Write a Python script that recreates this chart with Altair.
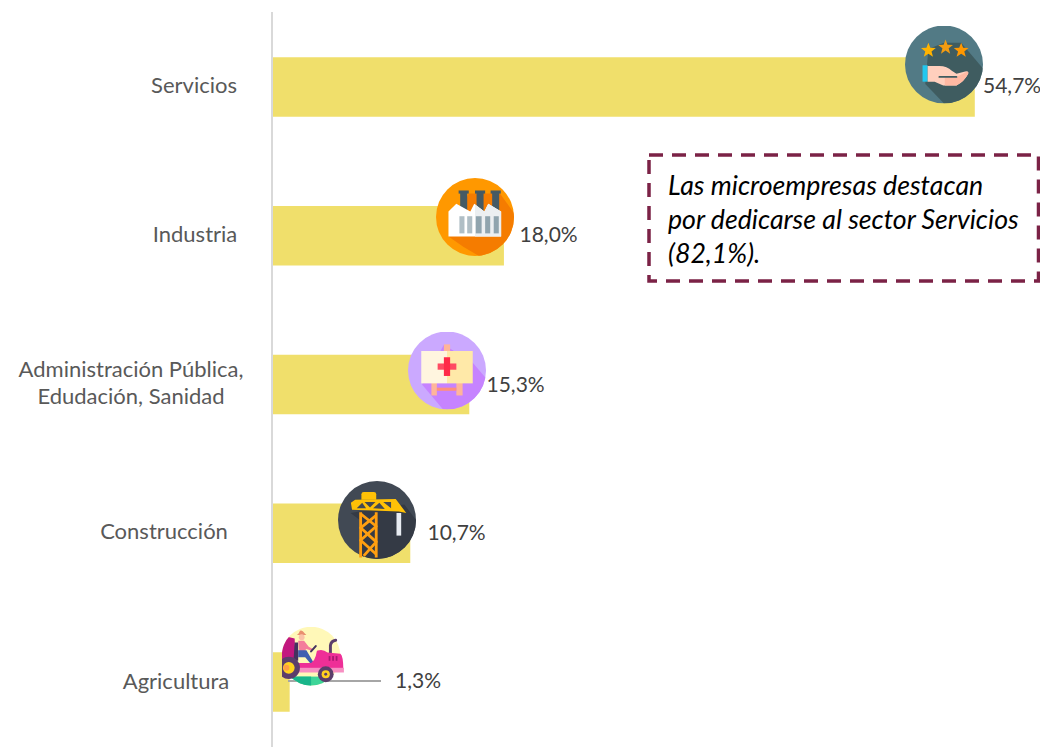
import base64
import math
import altair as alt
import pandas as pd

# ---- data ----
categories = ["Servicios", "Industria", "Administración Pública,\nEdudación, Sanidad", "Construcción", "Agricultura"]
values = [54.7, 18.0, 15.3, 10.7, 1.3]
value_labels = ["54,7%", "18,0%", "15,3%", "10,7%", "1,3%"]
note_lines = ["Las microempresas destacan", "por dedicarse al sector Servicios", "(82,1%)."]

# ---- layout (chart pixels = page pixels - 8) ----
W, H = 1032, 739
ORIGIN, PX_PER_UNIT = 265.0, 12.83
cat_x = [186, 187, 123, 156, 168]
cat_y = [78, 227, 361.5, 523.5, 674]
val_x = [975, 511.5, 478.5, 419.5, 387]
val_y = [79, 228, 378, 526, 674]
icon_x = [936, 467, 439, 369, 306]
icon_y = [56.5, 209, 362.5, 512, 651]
note_y = [178.7, 212.5, 246.7]


def uri(body, vb="0 0 100 100"):
    svg = f'<svg xmlns="http://www.w3.org/2000/svg" viewBox="{vb}" width="200" height="200">{body}</svg>'
    return "data:image/svg+xml;base64," + base64.b64encode(svg.encode()).decode()


def star(cx, cy, c):
    r, q = 10, 4.2
    pts = []
    for i in range(10):
        a = -math.pi / 2 + i * math.pi / 5
        rad = r if i % 2 == 0 else q
        pts.append(f"{cx + rad * math.cos(a):.1f},{cy + rad * math.sin(a):.1f}")
    return f'<polygon points="{" ".join(pts)}" fill="{c}"/>'


CLIP = '<clipPath id="c"><circle cx="50" cy="50" r="50"/></clipPath>'

hand = CLIP + '<circle cx="50" cy="50" r="50" fill="#527A85"/>' \
    '<polygon clip-path="url(#c)" points="26,75 30,30 50,22 72,22 100,55 100,100 50,100" fill="#3F5C60"/>' \
    + star(30, 32, "#FFB300") + star(52, 28, "#F39C12") + star(72, 32, "#FF9800") + \
    '<rect x="22.5" y="51" width="6.5" height="21" fill="#22C7EE"/>' \
    '<path d="M29 52 H44 Q54 52 60 58 L66 62 L77 59 Q82 58 81 62 Q76 72 66 77 H49 L38 72 H29 Z" fill="#FFCFBD"/>' \
    '<path d="M51 66 H66 L78 60 Q82 58 81 62 Q76 72 66 77 H51 Z" fill="#FFB9A3"/>' \
    '<path d="M44 66 H66" stroke="#3F5C60" stroke-width="2.2" stroke-linecap="round" fill="none"/>'

factory = CLIP + '<circle cx="50" cy="50" r="50" fill="#FF9800"/>' \
    '<polygon clip-path="url(#c)" points="35,88 16,75 42,20 82,20 100,45 100,100 55,100" fill="#F57C00"/>' \
    '<g fill="#455A64"><rect x="29" y="16" width="13" height="4"/><rect x="31" y="18" width="9" height="26"/>' \
    '<rect x="50" y="16" width="13" height="4"/><rect x="52" y="18" width="9" height="26"/>' \
    '<rect x="70" y="16" width="13" height="4"/><rect x="72" y="18" width="9" height="26"/></g>' \
    '<polygon points="16,75 16,43 26,33 44,43 49,33 62,43 67,33 83.5,43 83.5,75" fill="#FFFFFF"/>' \
    '<polygon points="50,75 50,34 62,43 67,33 83.5,43 83.5,75" fill="#ECEFF1"/>' \
    '<g fill="#B0BEC5"><rect x="30" y="49" width="6.5" height="22"/><rect x="40" y="49" width="6.5" height="22"/></g>' \
    '<g fill="#90A4AE"><rect x="51" y="49" width="7.5" height="22"/><rect x="63" y="49" width="6.5" height="22"/><rect x="74" y="49" width="6.5" height="22"/></g>'

board = CLIP + '<circle cx="50" cy="50" r="50" fill="#CBA9FF"/>' \
    '<polygon clip-path="url(#c)" points="46,17 83,40 100,60 100,100 45,100 18,68" fill="#C683FF"/>' \
    '<rect x="46" y="16.5" width="8" height="9" fill="#FFB59A"/>' \
    '<rect x="30" y="66" width="7" height="16" fill="#FFB59A"/><rect x="62" y="66" width="8" height="16" fill="#FFB59A"/>' \
    '<rect x="37" y="72" width="25" height="4" fill="#FF8F7E"/>' \
    '<rect x="17" y="25" width="33" height="41.5" fill="#FFF5DF"/><rect x="50" y="25" width="33" height="41.5" fill="#FFE9A8"/>' \
    '<rect x="38" y="41" width="24" height="8" fill="#FF4B62"/><rect x="46" y="33" width="8" height="24" fill="#FF2A48"/>'

crane = CLIP + '<circle cx="50" cy="50" r="50" fill="#414954"/>' \
    '<polygon clip-path="url(#c)" points="16,41 28,50 28,100 100,100 100,50 85,30" fill="#343A45"/>' \
    '<path d="M30 24 V17 Q30 14 33 14 H46 Q49 14 49 17 V24 Z" fill="#FFC107"/>' \
    '<rect x="75" y="41" width="6" height="29" fill="#E8ECF2"/>' \
    '<g fill="none" stroke="#FF9F10" stroke-width="3.6" stroke-linejoin="round">' \
    '<path d="M29 40 V98 M49 40 V98"/><path d="M29 42 L49 58 L29 76 L49 94"/><path d="M49 44 L29 60 L49 78 L33 96"/></g>' \
    '<path d="M29 38 H51 V98 H47 V38 Z" fill="#FFAA12" opacity="0"/>' \
    '<polygon points="16.5,28 22,24 74,23 87.5,41 78,39 18,37" fill="#FFC107"/>' \
    '<g fill="#414954"><polygon points="24,35 31,28 36,35"/><polygon points="34,27 48,27 41,34"/><polygon points="45,35 53,28 60,36"/><polygon points="58,27 68,27 68,35"/></g>'

tractor = CLIP + '<circle cx="50" cy="50" r="50" fill="#FFF8B8"/>' \
    '<g clip-path="url(#c)"><polygon points="0,15 22,20 24,65 0,65" fill="#C2187F"/>' \
    '<rect x="0" y="85" width="100" height="16" fill="#3DD598"/><rect x="0" y="85" width="50" height="16" fill="#19B58A"/></g>' \
    '<path d="M22 27 H28 V58 H20 Z" fill="#44335F"/>' \
    '<path d="M26 14 H42 L39 11 Q35 5 31 7 L29 11 Z" fill="#E9906F"/>' \
    '<circle cx="34" cy="18" r="5" fill="#FBC3A7"/>' \
    '<path d="M28 24 H38 L46 34 L53 38 L51 41 L42 38 L38 42 H30 Z" fill="#F47C9B"/>' \
    '<path d="M28 40 H42 L56 64 H50 L40 52 H28 Z" fill="#3F5FB0"/>' \
    '<path d="M50 42 L58 33" stroke="#44335F" stroke-width="3.5" stroke-linecap="round" fill="none"/>' \
    '<path d="M83 48 V32 Q84 24 92 23" stroke="#5B3E6B" stroke-width="5" stroke-linecap="round" fill="none"/>' \
    '<path d="M60 41 Q70 37 78 44 L100 46 Q105 50 105 72 H10 V62 H50 Q56 58 58 50 Z" fill="#EE2F97"/>' \
    '<rect x="10" y="70" width="96" height="8" fill="#F78FC2"/>' \
    '<g fill="#A81A70"><rect x="80" y="50" width="3" height="8"/><rect x="86" y="50" width="3" height="8"/><rect x="92" y="50" width="3" height="8"/></g>' \
    '<circle cx="12" cy="70" r="19" fill="#5B3E6B"/><circle cx="12" cy="70" r="10" fill="#FFD21F"/><circle cx="8" cy="70" r="5" fill="#FF9F45"/>' \
    '<circle cx="75" cy="81" r="13.5" fill="#5B3E6B"/><circle cx="75" cy="81" r="7" fill="#FFD21F"/><circle cx="75" cy="81" r="2.5" fill="#5B3E6B"/>'

icons = [uri(hand), uri(factory), uri(board), uri(crane)]
icon_tractor = uri(tractor, "0 0 110 110")

# ---- tables ----
bars = pd.DataFrame({"cat": categories, "v": values})
cat_df = pd.DataFrame({"t": categories, "px": cat_x, "py": cat_y})
val_df = pd.DataFrame({"t": value_labels, "px": val_x, "py": val_y})
icon_df = pd.DataFrame({"u": icons, "px": icon_x[:4], "py": icon_y[:4]})
trac_df = pd.DataFrame({"u": [icon_tractor], "px": [icon_x[4]], "py": [icon_y[4]]})
note_df = pd.DataFrame({"t": note_lines, "py": note_y})

X = alt.X("v:Q", axis=None, scale=alt.Scale(domain=[-ORIGIN / PX_PER_UNIT, (W - ORIGIN) / PX_PER_UNIT], nice=False, zero=False))
Y = alt.Y("cat:N", axis=None, sort=categories, scale=alt.Scale(type="band", range=[4.6, 748.35], padding=0))
PX = alt.X("px:Q", scale=None, axis=None)
PY = alt.Y("py:Q", scale=None, axis=None)

bar = alt.Chart(bars).mark_bar(size=59.5, color="#F0DF6B", cornerRadius=0).encode(x=X, y=Y)

axis_line = alt.Chart(pd.DataFrame({"a": [0]})).mark_rule(color="#D9D9D9", strokeWidth=2).encode(
    x=alt.value(264), y=alt.value(4), y2=alt.value(744))
leader = alt.Chart(pd.DataFrame({"a": [0]})).mark_rule(color="#A6A6A6", strokeWidth=2).encode(
    x=alt.value(280), x2=alt.value(373), y=alt.value(673))

big = alt.Chart(icon_df).mark_image(width=78, height=78).encode(x=PX, y=PY, url="u:N")
small = alt.Chart(trac_df).mark_image(width=64.5, height=64.5).encode(x=PX, y=PY, url="u:N")

cat_text = alt.Chart(cat_df).mark_text(font="Lato", fontSize=22, color="#595959", align="center", baseline="middle",
                                       lineBreak="\n", lineHeight=27).encode(x=PX, y=PY, text="t:N")
val_text = alt.Chart(val_df).mark_text(font="Lato", fontSize=21, color="#404040", align="left", baseline="middle").encode(
    x=PX, y=PY, text="t:N")

box = alt.Chart(pd.DataFrame({"a": [0]})).mark_rect(fill="transparent", stroke="#7B2246", strokeWidth=3.5,
                                                    strokeDash=[14, 9]).encode(
    x=alt.value(641), x2=alt.value(1030.5), y=alt.value(147), y2=alt.value(273))
note = alt.Chart(note_df).mark_text(font="Lato", fontSize=26.7, fontStyle="italic", color="#000000", align="left",
                                    baseline="middle").encode(x=alt.value(660), y=PY, text="t:N")

chart = alt.layer(bar, axis_line, leader, big, small, cat_text, val_text, box, note).resolve_scale(
    x="independent", y="independent"
).properties(width=W, height=H, padding=0, autosize=alt.AutoSizeParams(type="none")).configure_view(stroke=None)

chart.save("out.html", embed_options={"renderer": "svg", "actions": False})
